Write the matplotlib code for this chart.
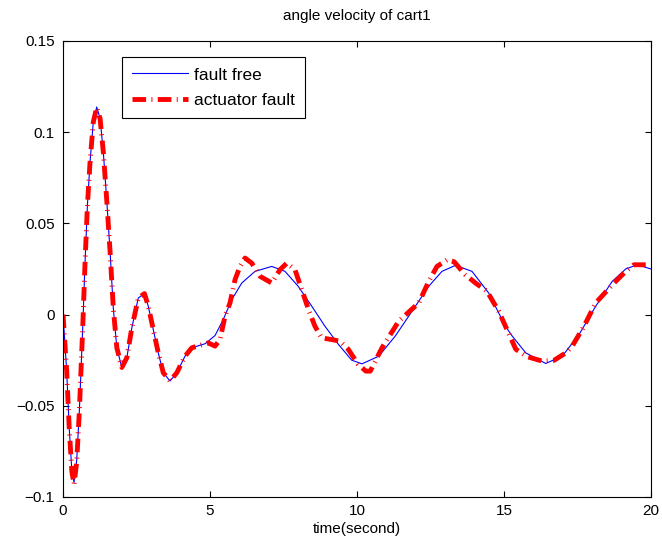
import numpy as np
import matplotlib
matplotlib.use('Agg')
import matplotlib.pyplot as plt

plt.rcParams['font.family'] = ['Liberation Sans', 'DejaVu Sans']

# fault free curve
t_free = [0, 0.125, 0.21, 0.3, 0.374, 0.465, 0.555, 0.67, 0.75, 0.83,
          0.92, 1.03, 1.146, 1.26, 1.37, 1.49, 1.6, 1.71, 1.83, 2.0,
          2.17, 2.34, 2.56, 2.77, 2.9, 3.07, 3.24, 3.41, 3.64, 3.87,
          4.15, 4.38, 4.83, 5.17, 5.45, 5.74, 6.08, 6.53, 7.1, 7.55,
          8.0, 8.46, 8.91, 9.37, 9.82, 10.17, 10.74, 11.3, 11.87, 12.44,
          12.89, 13.35, 13.91, 14.48, 15.05, 15.28, 15.74, 16.42, 16.98, 17.55,
          18.12, 18.68, 19.14, 19.53, 20.0]
y_free = [0, -0.031, -0.062, -0.0856, -0.092, -0.080, -0.053, -0.0073, 0.029, 0.060,
          0.0838, 0.1056, 0.1138, 0.1075, 0.0892, 0.062, 0.0346, 0.0036, -0.0182, -0.029,
          -0.0237, -0.0073, 0.0091, 0.0115, 0.0046, -0.0082, -0.021, -0.0319, -0.0364, -0.0319,
          -0.0228, -0.0182, -0.0160, -0.0115, -0.0027, 0.0082, 0.0173, 0.0237, 0.0264, 0.0237,
          0.0155, 0.0046, -0.0064, -0.0164, -0.0250, -0.027, -0.0228, -0.0118, 0.0018, 0.0155,
          0.0237, 0.027, 0.0237, 0.0118, -0.0065, -0.0118, -0.021, -0.0268, -0.0228, -0.011,
          0.0046, 0.0182, 0.025, 0.0273, 0.0250]

# actuator fault curve
t_fault = [0, 0.125, 0.21, 0.3, 0.374, 0.465, 0.555, 0.67, 0.75, 0.83,
           0.92, 1.03, 1.146, 1.26, 1.37, 1.49, 1.6, 1.71, 1.83, 2.0,
           2.17, 2.34, 2.56, 2.77, 2.9, 3.07, 3.24, 3.41, 3.64, 3.87,
           4.15, 4.38, 4.83, 4.94, 5.17, 5.34, 5.51, 5.68, 5.85, 6.02,
           6.19, 6.42, 6.7, 7.1, 7.38, 7.61, 7.89, 8.12, 8.35, 8.57,
           8.8, 9.14, 9.42, 9.7, 10.04, 10.3, 10.45, 10.85, 11.42, 12.1,
           12.44, 12.72, 13.06, 13.3, 13.68, 14.03, 14.42, 14.82, 15.23, 15.4,
           15.79, 16.3, 16.7, 17.1, 17.32, 17.72, 18.12, 18.74, 19.14, 19.42,
           19.82]
y_fault = [0, -0.031, -0.062, -0.086, -0.093, -0.081, -0.053, -0.0073, 0.029, 0.060,
           0.0838, 0.1056, 0.1135, 0.1075, 0.0892, 0.062, 0.0346, 0.0036, -0.0182, -0.029,
           -0.0237, -0.0073, 0.0091, 0.0115, 0.0046, -0.0082, -0.021, -0.0319, -0.0364, -0.0319,
           -0.0228, -0.0182, -0.0160, -0.0155, -0.0173, -0.0137, -0.0009, 0.0064, 0.0191, 0.0264,
           0.031, 0.0282, 0.021, 0.0173, 0.0246, 0.0282, 0.0246, 0.0137, 0.0027, -0.0064,
           -0.0128, -0.0137, -0.0146, -0.019, -0.0273, -0.031, -0.031, -0.0182, -0.0036, 0.0064,
           0.0182, 0.0264, 0.030, 0.029, 0.0219, 0.0173, 0.0128, 0.0018, -0.0128, -0.019,
           -0.0231, -0.0255, -0.0251, -0.021, -0.0173, -0.0064, 0.0064, 0.0173, 0.0237, 0.0273,
           0.0273]

y_ticks = [-0.1, -0.05, 0, 0.05, 0.1, 0.15]
y_labels = ['\u22120.1', '\u22120.05', '0', '0.05', '0.1', '0.15']

fig = plt.figure(figsize=(6.62, 5.5), dpi=100)
ax = fig.add_axes([0.0952, 0.0964, 0.8882, 0.8291])

ax.plot(t_free, y_free, color='#0000ff', lw=0.8, label='fault free')
ax.plot(t_fault, y_fault, color='#ff0000', lw=3.5, dashes=(2.8, 1.1, 0.2, 1.1),
        dash_capstyle='butt', label='actuator fault')

ax.set_xlim(0, 20)
ax.set_ylim(-0.1, 0.15)
ax.set_xticks([0, 5, 10, 15, 20])
ax.set_yticks(y_ticks)
ax.set_yticklabels(y_labels)
ax.tick_params(direction='in', top=True, right=True, length=4, labelsize=11, width=0.8)
ax.tick_params(axis='y', pad=6)
ax.tick_params(axis='x', pad=5)
for s in ax.spines.values():
    s.set_linewidth(0.8)

ax.set_title('angle velocity of cart1', fontsize=11, pad=15)
ax.set_xlabel('time(second)', fontsize=11, labelpad=3)

leg = ax.legend(loc='upper left', bbox_to_anchor=(0.1, 0.965), borderaxespad=0,
                fontsize=12.5, fancybox=False, framealpha=1, edgecolor='black',
                handlelength=3.2, handletextpad=0.35, borderpad=0.6, labelspacing=0.6)
leg.get_frame().set_linewidth(0.8)

fig.savefig('out.png', dpi=100)
